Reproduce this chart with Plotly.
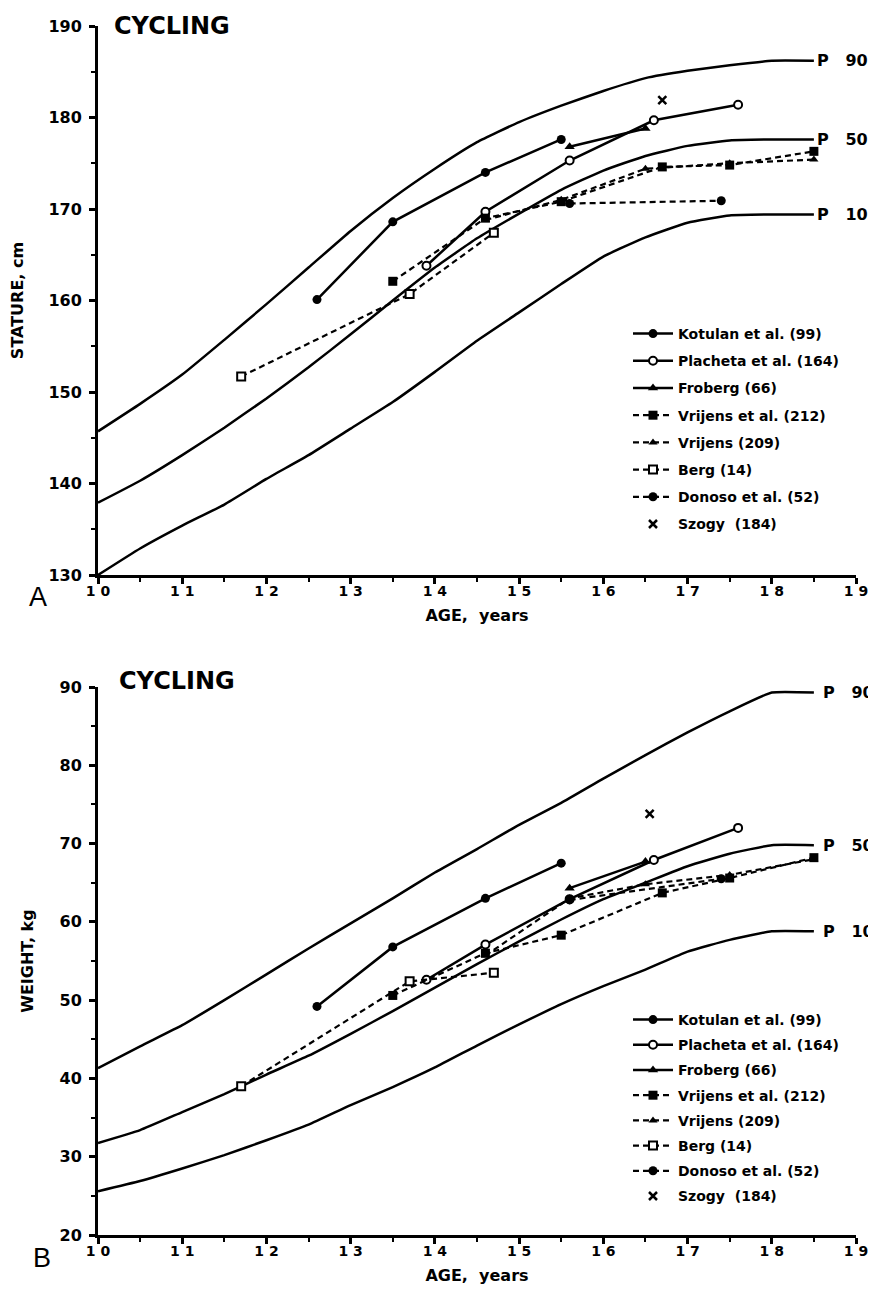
import plotly.graph_objects as go

# ---------------- data ----------------
ages_pct = [10, 10.5, 11, 11.5, 12, 12.5, 13, 13.5, 14, 14.5, 15, 15.5, 16, 16.5, 17, 17.5, 18, 18.5]

# Panel A: stature (cm)
p90_A = [145.7, 148.7, 151.9, 155.7, 159.6, 163.6, 167.6, 171.2, 174.4, 177.3, 179.5, 181.3, 182.9, 184.3, 185.1, 185.7, 186.2, 186.2]
p50_A = [137.9, 140.3, 143.1, 146.1, 149.3, 152.7, 156.3, 160.0, 163.6, 166.8, 169.5, 172.1, 174.2, 175.8, 176.9, 177.5, 177.6, 177.6]
p10_A = [130.0, 132.9, 135.4, 137.7, 140.5, 143.1, 146.0, 148.9, 152.2, 155.6, 158.7, 161.8, 164.8, 166.9, 168.5, 169.3, 169.4, 169.4]

kot_A_x = [12.6, 13.5, 14.6, 15.5]
kot_A_y = [160.1, 168.6, 174.0, 177.6]
pla_A_x = [13.9, 14.6, 15.6, 16.6, 17.6]
pla_A_y = [163.8, 169.7, 175.3, 179.7, 181.4]
fro_A_x = [15.6, 16.5]
fro_A_y = [176.8, 178.8]
vre_A_x = [13.5, 14.6, 15.5, 16.7, 17.5, 18.5]
vre_A_y = [162.1, 169.0, 170.8, 174.6, 174.8, 176.3]
vri_A_x = [14.6, 15.5, 16.5, 17.5, 18.5]
vri_A_y = [168.8, 171.0, 174.4, 175.0, 175.4]
berg_A_x = [11.7, 13.7, 14.7]
berg_A_y = [151.7, 160.7, 167.4]
don_A_x = [15.6, 17.4]
don_A_y = [170.6, 170.9]
szo_A_x = [16.7]
szo_A_y = [181.9]

# Panel B: weight (kg)
p90_B = [41.3, 44.1, 46.8, 50.0, 53.3, 56.6, 59.8, 63.0, 66.3, 69.3, 72.4, 75.2, 78.3, 81.3, 84.2, 86.9, 89.3, 89.3]
p50_B = [31.75, 33.4, 35.7, 38.0, 40.5, 42.9, 45.7, 48.6, 51.6, 54.6, 57.5, 60.3, 62.9, 65.0, 67.1, 68.7, 69.8, 69.8]
p10_B = [25.6, 26.9, 28.5, 30.2, 32.1, 34.1, 36.6, 38.9, 41.4, 44.2, 46.9, 49.5, 51.8, 53.9, 56.2, 57.7, 58.8, 58.8]

kot_B_x = [12.6, 13.5, 14.6, 15.5]
kot_B_y = [49.2, 56.8, 63.0, 67.5]
pla_B_x = [13.9, 14.6, 15.6, 16.6, 17.6]
pla_B_y = [52.6, 57.1, 62.9, 67.9, 72.0]
fro_B_x = [15.6, 16.5]
fro_B_y = [64.3, 67.7]
vre_B_x = [13.5, 14.6, 15.5, 16.7, 17.5, 18.5]
vre_B_y = [50.6, 56.0, 58.3, 63.7, 65.6, 68.2]
vri_B_x = [14.6, 15.6, 16.5, 17.5, 18.5]
vri_B_y = [55.7, 63.0, 64.8, 66.0, 68.0]
berg_B_x = [11.7, 13.7, 14.7]
berg_B_y = [39.0, 52.4, 53.5]
don_B_x = [15.6, 17.4]
don_B_y = [62.8, 65.5]
szo_B_x = [16.55]
szo_B_y = [73.8]

x_tickvals = [10, 11, 12, 13, 14, 15, 16, 17, 18, 19]
x_ticktext = ["1 0", "1 1", "1 2", "1 3", "1 4", "1 5", "1 6", "1 7", "1 8", "1 9"]
yA_ticks = [130, 140, 150, 160, 170, 180, 190]
yB_ticks = [20, 30, 40, 50, 60, 70, 80, 90]

pct_labels = ["P\u00a0\u00a0\u00a090", "P\u00a0\u00a0\u00a050", "P\u00a0\u00a0\u00a010"]

series_names = ["Kotulan et al. (99)", "Placheta et al. (164)", "Froberg (66)",
                "Vrijens et al. (212)", "Vrijens (209)", "Berg (14)",
                "Donoso et al. (52)", "Szogy  (184)"]

# ---------------- styling ----------------
FONT = "DejaVu Sans"
BLACK = "black"
solid = dict(color=BLACK, width=2.5)
dashed = dict(color=BLACK, width=2.2, dash="6px,4px")

styles = [
    dict(mode="lines+markers", line=solid, marker=dict(symbol="circle", size=9, color=BLACK)),
    dict(mode="lines+markers", line=solid, marker=dict(symbol="circle", size=8, color="white", line=dict(color=BLACK, width=2))),
    dict(mode="lines+markers", line=solid, marker=dict(symbol="triangle-up", size=9, color=BLACK)),
    dict(mode="lines+markers", line=dashed, marker=dict(symbol="square", size=9, color=BLACK)),
    dict(mode="lines+markers", line=dashed, marker=dict(symbol="triangle-up", size=8, color=BLACK)),
    dict(mode="lines+markers", line=dashed, marker=dict(symbol="square", size=8, color="white", line=dict(color=BLACK, width=2))),
    dict(mode="lines+markers", line=dashed, marker=dict(symbol="circle", size=9, color=BLACK)),
    dict(mode="markers", marker=dict(symbol="x-thin", size=8, color=BLACK, line=dict(color=BLACK, width=2.5))),
]

fig = go.Figure()

panels = [
    dict(xa="x", ya="y", legend="legend", tag="A",
         pct=[p90_A, p50_A, p10_A],
         series=[(kot_A_x, kot_A_y), (pla_A_x, pla_A_y), (fro_A_x, fro_A_y), (vre_A_x, vre_A_y),
                 (vri_A_x, vri_A_y), (berg_A_x, berg_A_y), (don_A_x, don_A_y), (szo_A_x, szo_A_y)]),
    dict(xa="x2", ya="y2", legend="legend2", tag="B",
         pct=[p90_B, p50_B, p10_B],
         series=[(kot_B_x, kot_B_y), (pla_B_x, pla_B_y), (fro_B_x, fro_B_y), (vre_B_x, vre_B_y),
                 (vri_B_x, vri_B_y), (berg_B_x, berg_B_y), (don_B_x, don_B_y), (szo_B_x, szo_B_y)]),
]

annotations = []
for p in panels:
    for curve, lab in zip(p["pct"], pct_labels):
        fig.add_trace(go.Scatter(x=ages_pct, y=curve, mode="lines", xaxis=p["xa"], yaxis=p["ya"],
                                 line=dict(color=BLACK, width=2.5, shape="spline", smoothing=0.4),
                                 showlegend=False, hoverinfo="skip", cliponaxis=False))
        annotations.append(dict(x=18.52 if p["tag"] == "A" else 18.6, y=curve[-1],
                                xref=p["xa"], yref=p["ya"], text=lab, showarrow=False,
                                xanchor="left", yanchor="middle", borderpad=0,
                                font=dict(family=FONT, size=16, color=BLACK, weight="bold")))
    for (sx, sy), name, st in zip(p["series"], series_names, styles):
        fig.add_trace(go.Scatter(x=sx, y=sy, name=name, xaxis=p["xa"], yaxis=p["ya"],
                                 legend=p["legend"], legendgroup=p["tag"] + name,
                                 cliponaxis=False, **st))

# ---------------- layout ----------------
W, H = 876, 1291
xdom = [90 / W, 848 / W]
yA_dom = [1 - 567 / H, 1 - 18 / H]
yB_dom = [1 - 1227 / H, 1 - 679 / H]

tickfont_x = dict(family=FONT, size=14, color=BLACK, weight="bold")
tickfont_y = dict(family=FONT, size=16, color=BLACK, weight="bold")
titlefont = dict(family=FONT, size=16, color=BLACK, weight="bold")


def xaxis(anchor):
    return dict(domain=xdom, anchor=anchor, range=[10, 19], showgrid=False, zeroline=False,
                showline=True, linecolor=BLACK, linewidth=3, ticks="outside", ticklen=6,
                tickwidth=2.5, tickcolor=BLACK, tickvals=x_tickvals, ticktext=x_ticktext,
                tickfont=tickfont_x, automargin=False, ticklabelstandoff=-5,
                minor=dict(dtick=0.5, tick0=10, ticks="outside", ticklen=4, tickwidth=2, tickcolor=BLACK),
                title=dict(text="AGE,  years", font=titlefont, standoff=13))


def yaxis(anchor, dom, rng, ticks, title):
    return dict(domain=dom, anchor=anchor, range=rng, showgrid=False, zeroline=False,
                showline=True, linecolor=BLACK, linewidth=3, ticks="outside", ticklen=6,
                tickwidth=2.5, tickcolor=BLACK, tickvals=ticks, tickfont=tickfont_y,
                automargin=False, ticklabelstandoff=4,
                minor=dict(dtick=5, tick0=rng[0], ticks="outside", ticklen=4, tickwidth=2, tickcolor=BLACK),
                title=dict(text=title, font=titlefont, standoff=22))


legend_font = dict(family=FONT, size=14, color=BLACK, weight="bold")
common = dict(xanchor="left", yanchor="top", bgcolor="rgba(0,0,0,0)", font=legend_font, itemwidth=40)

annotations += [
    dict(x=104 / W, y=1 - 18 / H, xref="paper", yref="paper", text="CYCLING", showarrow=False,
         xanchor="left", yanchor="middle", font=dict(family=FONT, size=24, color=BLACK, weight="bold")),
    dict(x=109 / W, y=1 - 673 / H, xref="paper", yref="paper", text="CYCLING", showarrow=False,
         xanchor="left", yanchor="middle", font=dict(family=FONT, size=24, color=BLACK, weight="bold")),
    dict(x=30 / W, y=1 - 589 / H, xref="paper", yref="paper", text="A", showarrow=False,
         xanchor="center", yanchor="middle", font=dict(family="Liberation Sans", size=27, color=BLACK)),
    dict(x=34 / W, y=1 - 1250 / H, xref="paper", yref="paper", text="B", showarrow=False,
         xanchor="center", yanchor="middle", font=dict(family="Liberation Sans", size=27, color=BLACK)),
]

fig.update_layout(
    width=W, height=H, margin=dict(l=0, r=0, t=0, b=0, autoexpand=False),
    paper_bgcolor="white", plot_bgcolor="white",
    xaxis=xaxis("y"), yaxis=yaxis("x", yA_dom, [130, 190], yA_ticks, "STATURE, cm"),
    xaxis2=xaxis("y2"), yaxis2=yaxis("x2", yB_dom, [20, 90], yB_ticks, "WEIGHT, kg"),
    legend=dict(x=620 / W, y=1 - 310 / H, tracegroupgap=6, **common),
    legend2=dict(x=620 / W, y=1 - 996 / H, tracegroupgap=4, **common),
    annotations=annotations,
    showlegend=True,
)

fig.write_html("out.html")
